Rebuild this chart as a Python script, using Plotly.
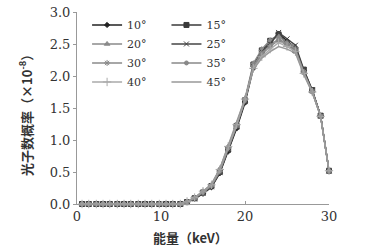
import plotly.graph_objects as go

energy_kev = [0.6, 1.4, 2.3, 3.1, 3.9, 4.8, 5.6, 6.4, 7.3, 8.1, 8.9, 9.8, 10.6, 11.4, 12.3,
              13.1, 14, 15, 16, 17, 18, 19, 20, 21, 22, 23, 24, 25, 26, 27, 28, 29, 30]

zeros = [0.0] * 15

angles = ["10°", "15°", "20°", "25°", "30°", "35°", "40°", "45°"]

p10 = zeros + [0.03, 0.08, 0.16, 0.26, 0.48, 0.82, 1.18, 1.58, 2.12, 2.36, 2.52, 2.66, 2.55, 2.44, 2.08, 1.76, 1.38, 0.52]
p15 = zeros + [0.03, 0.09, 0.18, 0.28, 0.50, 0.86, 1.22, 1.62, 2.18, 2.40, 2.55, 2.65, 2.50, 2.40, 2.10, 1.78, 1.38, 0.52]
p20 = zeros + [0.04, 0.10, 0.20, 0.30, 0.55, 0.90, 1.25, 1.65, 2.20, 2.42, 2.56, 2.62, 2.52, 2.46, 2.08, 1.77, 1.38, 0.52]
p25 = zeros + [0.03, 0.08, 0.17, 0.27, 0.49, 0.84, 1.20, 1.60, 2.15, 2.38, 2.50, 2.68, 2.58, 2.48, 2.10, 1.78, 1.38, 0.52]
p30 = zeros + [0.03, 0.09, 0.18, 0.28, 0.51, 0.87, 1.22, 1.62, 2.16, 2.36, 2.48, 2.58, 2.50, 2.42, 2.06, 1.76, 1.37, 0.52]
p35 = zeros + [0.03, 0.09, 0.19, 0.29, 0.52, 0.88, 1.23, 1.63, 2.14, 2.34, 2.46, 2.56, 2.48, 2.40, 2.05, 1.75, 1.37, 0.52]
p40 = zeros + [0.04, 0.10, 0.20, 0.30, 0.54, 0.90, 1.24, 1.64, 2.12, 2.30, 2.42, 2.52, 2.46, 2.38, 2.04, 1.75, 1.37, 0.52]
p45 = zeros + [0.04, 0.10, 0.20, 0.31, 0.55, 0.91, 1.26, 1.65, 2.10, 2.28, 2.38, 2.46, 2.42, 2.36, 2.02, 1.74, 1.37, 0.52]

series = [p10, p15, p20, p25, p30, p35, p40, p45]

x_title = "能量（keV）"
y_title = "光子数概率（×10<sup>-8</sup>）"

colors = ["#222222", "#3a3a3a", "#8a8a8a", "#444444", "#8a8a8a", "#888888", "#aaaaaa", "#999999"]
symbols = ["diamond", "square", "triangle-up", "x-thin-open", "asterisk-open", "circle", "cross-thin-open", None]
sizes = [4, 5, 5, 5, 5, 4, 6, 0]

serif = "DejaVu Serif"
cjk = "Noto Sans CJK SC"

fig = go.Figure()
for i, (name, ys) in enumerate(zip(angles, series)):
    marker = dict(color=colors[i], size=sizes[i], line=dict(color=colors[i], width=1))
    if symbols[i] is not None:
        marker["symbol"] = symbols[i]
    fig.add_trace(go.Scatter(
        x=energy_kev, y=ys, name=name,
        mode="lines+markers" if symbols[i] is not None else "lines",
        line=dict(color=colors[i], width=1.4),
        marker=marker,
        cliponaxis=False,
        legend="legend" if i % 2 == 0 else "legend2",
    ))

legend_common = dict(
    font=dict(family=serif, size=11, color="#333333"),
    bgcolor="rgba(0,0,0,0)",
    yanchor="top", xanchor="left", tracegroupgap=0,
    itemwidth=30,
)

fig.update_layout(
    width=373, height=248,
    margin=dict(l=77, r=44, t=12, b=44, autoexpand=False),
    paper_bgcolor="white", plot_bgcolor="white",
    legend=dict(x=0.04, y=1.008, **legend_common),
    legend2=dict(x=0.355, y=1.008, **legend_common),
    xaxis=dict(
        range=[0, 30], tickvals=[0, 10, 20, 30], showgrid=False, zeroline=False,
        showline=True, linecolor="#999999", linewidth=1, automargin=False,
        ticks="inside", ticklen=3, tickcolor="#999999", ticklabeloverflow="allow",
        tickfont=dict(family=serif, size=13, color="#333333"),
    ),
    yaxis=dict(
        range=[0, 3.0], tickvals=[0, 0.5, 1.0, 1.5, 2.0, 2.5, 3.0], tickformat=".1f",
        showgrid=False, zeroline=False, automargin=False,
        showline=True, linecolor="#999999", linewidth=1,
        ticks="outside", ticklen=3, tickcolor="#999999", ticklabeloverflow="allow",
        tickfont=dict(family=serif, size=13, color="#333333"),
    ),
    annotations=[
        dict(
            text="<b>" + x_title + "</b>", xref="paper", yref="paper",
            x=0.45, y=-0.177, xanchor="center", yanchor="middle", showarrow=False,
            font=dict(family=cjk, size=13, color="#333333"),
        ),
        dict(
            text="<b>" + y_title + "</b>", xref="paper", yref="paper",
            x=-0.206, y=0.48, xanchor="center", yanchor="middle", showarrow=False,
            textangle=-90,
            font=dict(family=cjk, size=13, color="#333333"),
        ),
    ],
)

fig.write_html("out.html", config={"displayModeBar": False},
               post_script="document.body.style.margin='0';")
